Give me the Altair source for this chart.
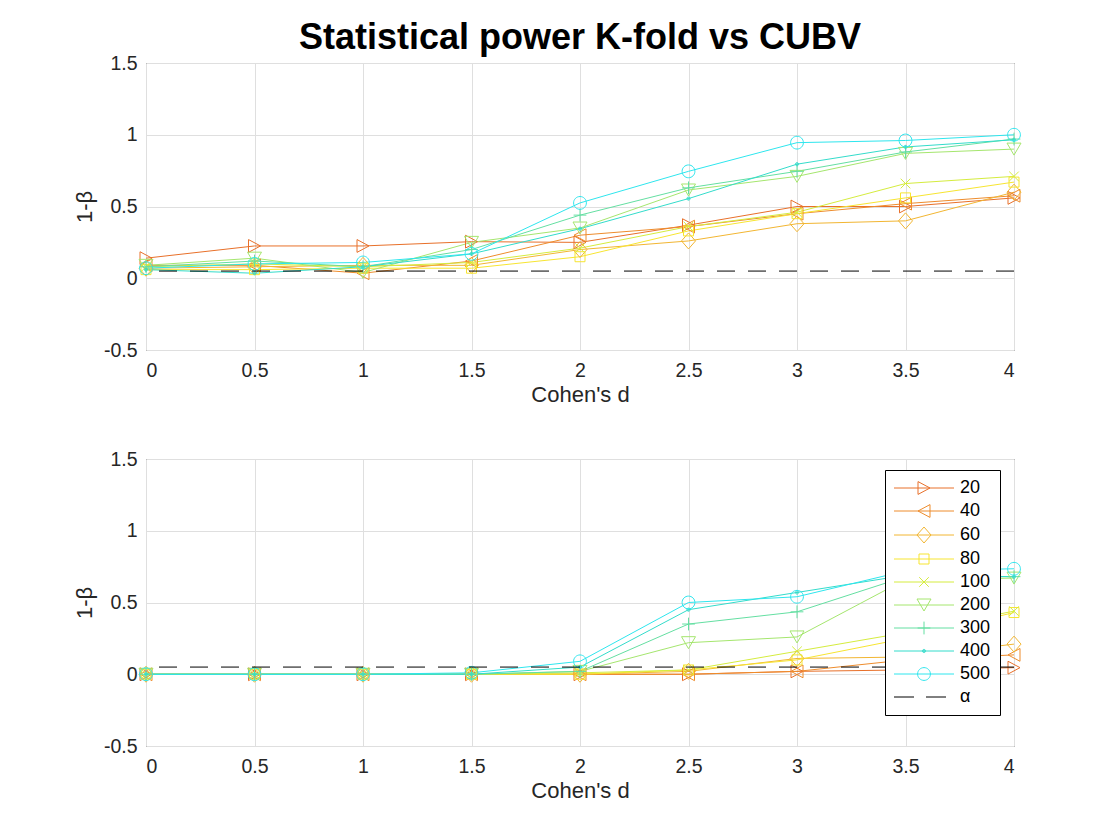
import altair as alt
import pandas as pd

FONT = "Liberation Sans"

# ---------------- data ----------------
d_values = [0, 0.5, 1, 1.5, 2, 2.5, 3, 3.5, 4]
sample_sizes = ["20", "40", "60", "80", "100", "200", "300", "400", "500"]
series_colors = ["#E8702A", "#EE8C2C", "#F2B632", "#F7E531", "#D5EC3E",
                 "#A5E66E", "#64DFA2", "#33DCCB", "#2EE6EE"]
alpha_level = 0.05

# top panel (K-fold)
kfold_20 = [0.14, 0.225, 0.225, 0.255, 0.25, 0.37, 0.50, 0.50, 0.56]
kfold_40 = [0.09, 0.09, 0.035, 0.12, 0.30, 0.36, 0.45, 0.52, 0.575]
kfold_60 = [0.07, 0.08, 0.09, 0.09, 0.20, 0.26, 0.38, 0.40, 0.60]
kfold_80 = [0.06, 0.06, 0.07, 0.07, 0.15, 0.33, 0.45, 0.56, 0.67]
kfold_100 = [0.08, 0.10, 0.08, 0.11, 0.21, 0.36, 0.46, 0.66, 0.71]
kfold_200 = [0.09, 0.14, 0.04, 0.25, 0.35, 0.615, 0.71, 0.87, 0.90]
kfold_300 = [0.08, 0.12, 0.08, 0.20, 0.44, 0.63, 0.745, 0.88, 0.97]
kfold_400 = [0.06, 0.035, 0.08, 0.17, 0.345, 0.555, 0.795, 0.915, 0.965]
kfold_500 = [0.07, 0.10, 0.11, 0.17, 0.525, 0.745, 0.945, 0.96, 1.0]

# bottom panel (CUBV)
cubv_20 = [0, 0, 0, 0, 0, 0.0, 0.02, 0.03, 0.046]
cubv_40 = [0, 0, 0, 0, 0, 0.0, 0.02, 0.10, 0.135]
cubv_60 = [0, 0, 0, 0, 0, 0.02, 0.11, 0.12, 0.21]
cubv_80 = [0, 0, 0, 0, 0, 0.03, 0.10, 0.25, 0.43]
cubv_100 = [0, 0, 0, 0, 0.01, 0.03, 0.16, 0.29, 0.44]
cubv_200 = [0, 0, 0, 0, 0.02, 0.22, 0.26, 0.66, 0.67]
cubv_300 = [0, 0, 0, 0, 0.02, 0.35, 0.435, 0.68, 0.68]
cubv_400 = [0, 0, 0, 0, 0.05, 0.45, 0.57, 0.69, 0.68]
cubv_500 = [0, 0, 0, 0.01, 0.09, 0.50, 0.54, 0.72, 0.735]

kfold_series = [kfold_20, kfold_40, kfold_60, kfold_80, kfold_100,
                kfold_200, kfold_300, kfold_400, kfold_500]
cubv_series = [cubv_20, cubv_40, cubv_60, cubv_80, cubv_100,
               cubv_200, cubv_300, cubv_400, cubv_500]


def to_long(series_list):
    rows = []
    for n, vals in zip(sample_sizes, series_list):
        for d, v in zip(d_values, vals):
            rows.append({"d": d, "power": v, "n": n})
    return pd.DataFrame(rows)


df_top = to_long(kfold_series)
df_bot = to_long(cubv_series)


# ---------------- marker glyphs (style) ----------------
def f(v):
    return f"{v:.3f}"


def circle(cx, r):
    return (f"M{f(cx - r)},0A{f(r)},{f(r)} 0 1,0 {f(cx + r)},0"
            f"A{f(r)},{f(r)} 0 1,0 {f(cx - r)},0Z")


def marker_paths(cx):
    return [
        f"M{f(cx - 0.75)},-0.8L{f(cx + 0.75)},0L{f(cx - 0.75)},0.8Z",      # >
        f"M{f(cx + 0.75)},-0.8L{f(cx - 0.75)},0L{f(cx + 0.75)},0.8Z",      # <
        f"M{f(cx)},-1L{f(cx + 0.875)},0L{f(cx)},1L{f(cx - 0.875)},0Z",     # diamond
        f"M{f(cx - 0.625)},-0.625L{f(cx + 0.625)},-0.625L{f(cx + 0.625)},0.625L{f(cx - 0.625)},0.625Z",
        f"M{f(cx - 0.6)},-0.6L{f(cx + 0.6)},0.6M{f(cx - 0.6)},0.6L{f(cx + 0.6)},-0.6",  # x
        f"M{f(cx - 0.875)},-0.75L{f(cx + 0.875)},-0.75L{f(cx)},0.75Z",     # triangle down
        f"M{f(cx - 0.8)},0L{f(cx + 0.8)},0M{f(cx)},-0.8L{f(cx)},0.8",      # +
        circle(cx, 0.2) + circle(cx, 0.08),                                  # dot
        circle(cx, 0.8),                                                     # o
    ]


plot_shapes = marker_paths(0.0)
LCX = 2.625
legend_line = "M-1.125,0L6.375,0"
legend_shapes = [legend_line + p for p in marker_paths(LCX)]
legend_shapes.append("M-1.125,0L1.375,0M2.875,0L5.375,0")
legend_labels = sample_sizes + ["α"]
legend_colors = series_colors + ["#000000"]

# ---------------- chart ----------------
x_enc = alt.X("d:Q", title="Cohen's d",
              scale=alt.Scale(domain=[0, 4], nice=False, zero=False),
              axis=alt.Axis(values=d_values, labelExpr="toString(datum.value)",
                            labelPadding=11, titlePadding=5))
y_enc = alt.Y("power:Q", title="1-β",
              scale=alt.Scale(domain=[-0.5, 1.5], nice=False, zero=False),
              axis=alt.Axis(values=[-0.5, 0, 0.5, 1, 1.5],
                            labelExpr="toString(datum.value)",
                            labelPadding=9, titlePadding=7))

color_plot = alt.Color("n:N", scale=alt.Scale(domain=sample_sizes, range=series_colors),
                       legend=None)
shape_plot = alt.Shape("n:N", scale=alt.Scale(domain=sample_sizes, range=plot_shapes),
                       legend=None)

LEG_SYM = 256


def panel(df, with_legend=False, title=None):
    base = alt.Chart(df)
    lines = base.mark_line(strokeWidth=1).encode(x=x_enc, y=y_enc, color=color_plot)
    pts = base.mark_point(filled=False, strokeWidth=1, size=256, opacity=1).encode(
        x=x_enc, y=y_enc, color=color_plot, shape=shape_plot)
    rule = alt.Chart(pd.DataFrame({"power": [alpha_level]})).mark_rule(
        color="#000000", strokeWidth=1, strokeDash=[18, 13]).encode(y=alt.Y("power:Q"))
    layers = [lines, pts, rule]
    if with_legend:
        leg_df = pd.DataFrame({"label": legend_labels})
        common = dict(title=None, orient="none", legendX=739, legendY=11,
                      padding=9, strokeColor="#000000", fillColor="#FFFFFF",
                      cornerRadius=0, labelFont=FONT, labelFontSize=18,
                      labelColor="#000000", symbolSize=LEG_SYM,
                      symbolStrokeWidth=1, labelOffset=48, labelLimit=200)
        leg = alt.Chart(leg_df).mark_point(filled=False, strokeWidth=1, size=LEG_SYM,
                                           opacity=1).encode(
            color=alt.Color("label:N",
                            scale=alt.Scale(domain=legend_labels, range=legend_colors),
                            legend=alt.Legend(**common)),
            shape=alt.Shape("label:N",
                            scale=alt.Scale(domain=legend_labels, range=legend_shapes),
                            legend=alt.Legend(**common))
        ).transform_filter("false")
        layers.append(leg)
    ch = alt.layer(*layers)
    if with_legend:
        ch = ch.resolve_scale(color="independent", shape="independent")
    props = dict(width=868, height=287)
    if title is not None:
        props["title"] = title
    return ch.properties(**props)


top = panel(df_top, title=alt.TitleParams(
    "Statistical power K-fold vs CUBV", font=FONT, fontSize=36, fontWeight="bold",
    color="#000000", anchor="middle", frame="group", offset=-4))
bottom = panel(df_bot, with_legend=True)

chart = alt.vconcat(top, bottom, spacing=42).resolve_scale(
    color="independent", shape="independent"
).properties(
    padding={"left": 64, "top": 11, "right": 5, "bottom": 5},
    background="#FFFFFF"
).configure_view(
    stroke="#262626", strokeWidth=1
).configure_axis(
    labelFont=FONT, labelFontSize=19.5, labelColor="#262626",
    titleFont=FONT, titleFontSize=22, titleFontWeight="normal", titleColor="#262626",
    grid=True, gridColor="#DFDFDF", gridWidth=1, domain=False, ticks=False
).configure_legend(rowPadding=5, symbolSize=LEG_SYM)

chart.save("out.html", embed_options={"renderer": "svg", "actions": False})
